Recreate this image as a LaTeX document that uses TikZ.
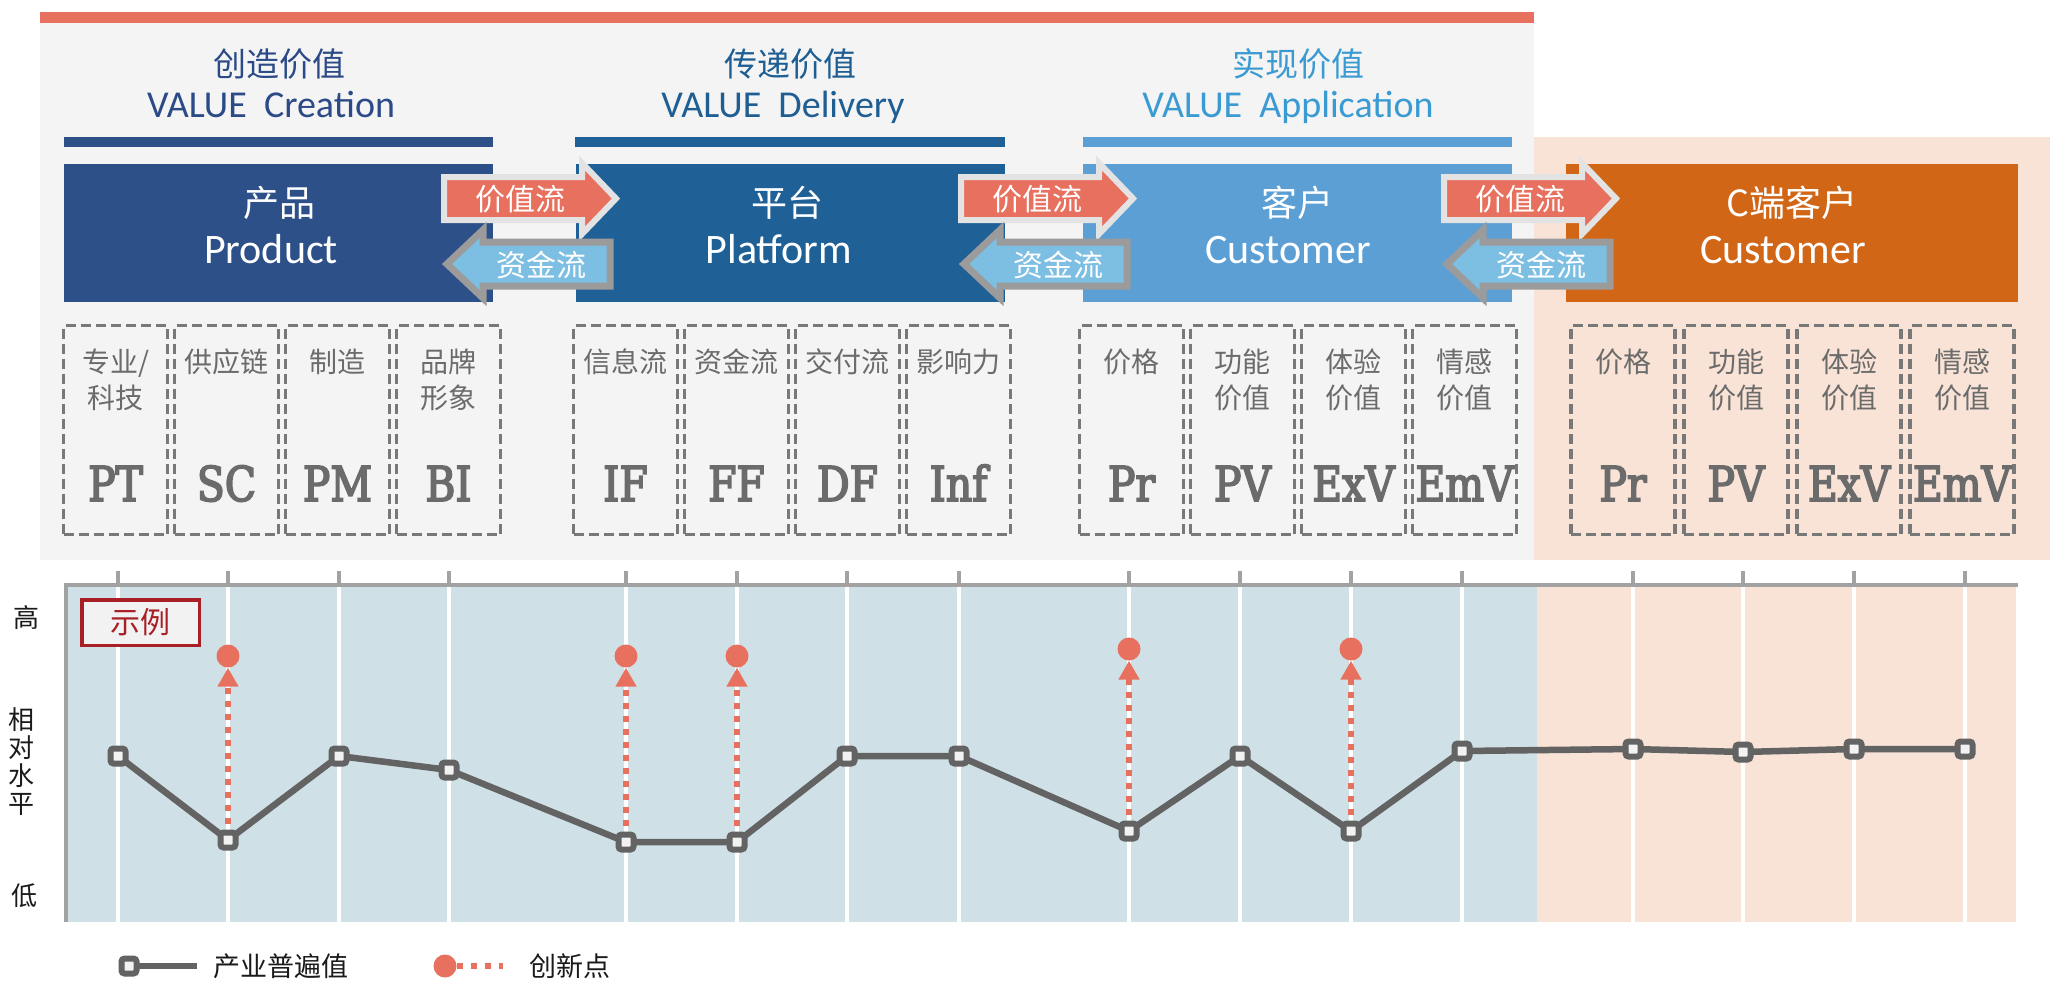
\documentclass[tikz,border=0pt]{standalone}
\usepackage{fontspec}
\setmainfont{Carlito}
\newfontfamily\cjk{Noto Sans CJK SC}
\newfontfamily\slab[FakeStretch=0.85,FakeBold=3.5]{DejaVu Serif}
\usetikzlibrary{arrows.meta}
\newcommand\myfs[1]{\fontsize{#1}{#1}\selectfont}
\definecolor{topred}{HTML}{E8705F}
\definecolor{panelgrey}{HTML}{F4F4F4}
\definecolor{peach}{HTML}{F8E3D6}
\definecolor{hdrA}{HTML}{2C4A87}
\definecolor{hdrB}{HTML}{1F5E93}
\definecolor{hdrC}{HTML}{3A9BD3}
\definecolor{boxA}{HTML}{2D5089}
\definecolor{boxB}{HTML}{1F6197}
\definecolor{boxC}{HTML}{5B9FD5}
\definecolor{boxD}{HTML}{D16617}
\definecolor{arrowred}{HTML}{E8705F}
\definecolor{arrowblue}{HTML}{7DBFE3}
\definecolor{outlight}{HTML}{E3E3E3}
\definecolor{outdark}{HTML}{9B9B9B}
\definecolor{dashgrey}{HTML}{787878}
\definecolor{lblgrey}{HTML}{6B6B6B}
\definecolor{chartblue}{HTML}{CFE1E7}
\definecolor{axisgrey}{HTML}{A2A2A2}
\definecolor{mgrey}{HTML}{636363}
\definecolor{mwhite}{HTML}{F2F2F2}
\definecolor{exred}{HTML}{A81F26}
\definecolor{ink}{HTML}{1A1A1A}
\tikzset{
  bigbox/.style={minimum width=429pt, minimum height=138pt, draw=none},
  hdrcn/.style={font=\cjk\myfs{33}},
  hdren/.style={font=\myfs{38}, anchor=base},
  boxcn/.style={font=\cjk\myfs{36}, text=white},
  boxen/.style={font=\myfs{42}, text=white, anchor=base},
  dbox/.style={draw=dashgrey, line width=3.5pt, dash pattern=on 10pt off 5pt, minimum width=104pt, minimum height=209pt},
  lbl/.style={font=\cjk\fontsize{28}{36}\selectfont, text=lblgrey, align=center},
  bigtxt/.style={font=\slab\myfs{48}, text=lblgrey, anchor=base},
  flowtxt/.style={font=\cjk\myfs{30}, text=white},
  redarrow/.style={fill=arrowred, draw=outlight, line width=6pt, line join=miter},
  bluearrow/.style={fill=arrowblue, draw=outdark, line width=7pt, line join=miter},
  valline/.style={draw=mgrey, line width=6.5pt, line join=round},
  valmark/.style={draw=mgrey, fill=mwhite, line width=6pt, minimum size=15pt, rounded corners=3pt},
  innodot/.style={circle, fill=arrowred, minimum size=23pt},
  innovl/.style={draw=arrowred, line width=6.5pt, dash pattern=on 6pt off 7pt, shorten <=6pt, -{Triangle[width=20pt,length=19pt]}},
  axistxt/.style={font=\cjk\myfs{26}, text=ink},
}
\newcommand\colbox[5]{%
  \node[dbox] (#1) at (#2,430) {};
  \node[lbl] (#1l) at (#2,#4) {#3};
  \node[bigtxt] (#1b) at (#2,501) {#5};
}
\begin{document}
\begin{tikzpicture}[x=1pt,y=-1pt, every node/.style={inner sep=0pt}]
\useasboundingbox (0,0) rectangle (2059,989);
\fill[white] (0,0) rectangle (2059,989);
% panels
\fill[panelgrey] (40,23) rectangle (1534,560);
\fill[topred] (40,12) rectangle (1534,23);
\fill[peach] (1534,137) rectangle (2050,560);
% headers
\node[hdrcn, text=hdrA] (h1) at (279,64) {创造价值};
\node[hdren, text=hdrA] (h1e) at (271,117) {VALUE\ \ Creation};
\node[hdrcn, text=hdrB] (h2) at (790,64) {传递价值};
\node[hdren, text=hdrB] (h2e) at (783,117) {VALUE\ \ Delivery};
\node[hdrcn, text=hdrC] (h3) at (1298,64) {实现价值};
\node[hdren, text=hdrC] (h3e) at (1288,117) {VALUE\ \ Application};
\fill[boxA] (64,137) rectangle (493,147);
\fill[boxB] (575,137) rectangle (1005,147);
\fill[boxC] (1083,137) rectangle (1512,147);
% big boxes
\node[bigbox, fill=boxA] (prod) at (278.5,233) {};
\node[bigbox, fill=boxB] (plat) at (790,233) {};
\node[bigbox, fill=boxC] (cust) at (1297.5,233) {};
\node[bigbox, fill=boxD, minimum width=452pt] (ccust) at (1792,233) {};
\node[boxcn] (prodc) at (279,203) {产品};
\node[boxen] (prode) at (271,263) {Product};
\node[boxcn] (platc) at (787,203) {平台};
\node[boxen] (plate) at (779,263) {Platform};
\node[boxcn] (custc) at (1297,203) {客户};
\node[boxen] (custe) at (1288,263) {Customer};
\node[boxcn] (ccustc) at (1792,203) {C端客户};
\node[boxen] (ccuste) at (1783,263) {Customer};
% flow arrows
\foreach \L/\i in {441/1,958/2,1441/3}{
  \draw[redarrow] ({\L+3},177) -- ({\L+141},177) -- ({\L+141},163) -- ({\L+175},198.5) -- ({\L+141},234) -- ({\L+141},220) -- ({\L+3},220) -- cycle;
  \node[flowtxt] (vf\i) at ({\L+79},199) {价值流};
  \draw[bluearrow] ({\L+6},264) -- ({\L+42},230) -- ({\L+42},242) -- ({\L+169},242) -- ({\L+169},286) -- ({\L+42},286) -- ({\L+42},298) -- cycle;
  \node[flowtxt] (ff\i) at ({\L+100},265) {资金流};
}
% dashed columns
\colbox{b1}{115.5}{专业/\\科技}{380}{PT}
\colbox{b2}{226.5}{供应链}{362}{SC}
\colbox{b3}{337.5}{制造}{362}{PM}
\colbox{b4}{448.5}{品牌\\形象}{380}{BI}
\colbox{b5}{625.5}{信息流}{362}{IF}
\colbox{b6}{736.5}{资金流}{362}{FF}
\colbox{b7}{847.5}{交付流}{362}{DF}
\colbox{b8}{958.5}{影响力}{362}{Inf}
\colbox{b9}{1131.5}{价格}{362}{Pr}
\colbox{b10}{1242.5}{功能\\价值}{380}{PV}
\colbox{b11}{1353.5}{体验\\价值}{380}{ExV}
\colbox{b12}{1464.5}{情感\\价值}{380}{EmV}
\colbox{b13}{1623}{价格}{362}{Pr}
\colbox{b14}{1736}{功能\\价值}{380}{PV}
\colbox{b15}{1849}{体验\\价值}{380}{ExV}
\colbox{b16}{1962}{情感\\价值}{380}{EmV}
% chart
\fill[chartblue] (68,587) rectangle (1537,922);
\fill[peach] (1537,587) rectangle (2016,922);
\foreach \x in {118,228,339,449,626,737,847,959,1129,1240,1351,1462,1633,1743,1854,1965}{
  \draw[white, line width=4pt] (\x,587) -- (\x,922);
  \draw[axisgrey, line width=4pt] (\x,571) -- (\x,586);
}
\draw[axisgrey, line width=4pt] (64,585) -- (2018,585);
\draw[axisgrey, line width=4pt] (66,583) -- (66,922);
\node[draw=exred, line width=3.5pt, fill=mwhite, minimum width=117.5pt, minimum height=45.5pt, text=exred, font=\cjk\myfs{30}] (ex) at (140.5,622.5) {示例};
\node[axistxt] (hi) at (26,618) {高};
\node[axistxt, font=\cjk\fontsize{26}{28}\selectfont, align=center] (rel) at (22,762) {相\\对\\水\\平};
\node[axistxt] (lo) at (25,896) {低};
% data
\coordinate (p1) at (118,756);
\coordinate (p2) at (228,840);
\coordinate (p3) at (339,756);
\coordinate (p4) at (449,770);
\coordinate (p5) at (626,842);
\coordinate (p6) at (737,842);
\coordinate (p7) at (847,756);
\coordinate (p8) at (959,756);
\coordinate (p9) at (1129,831);
\coordinate (p10) at (1240,756);
\coordinate (p11) at (1351,831);
\coordinate (p12) at (1462,751);
\coordinate (p13) at (1633,749);
\coordinate (p14) at (1743,752);
\coordinate (p15) at (1854,749);
\coordinate (p16) at (1965,749);
\draw[valline] (p1) -- (p2) -- (p3) -- (p4) -- (p5) -- (p6) -- (p7) -- (p8) -- (p9) -- (p10) -- (p11) -- (p12) -- (p13) -- (p14) -- (p15) -- (p16);
\foreach \i in {1,...,16}{ \node[valmark] (m\i) at (p\i) {}; }
\node[innodot] (c2) at (228,656) {};
\node[innodot] (c5) at (626,656) {};
\node[innodot] (c6) at (737,656) {};
\node[innodot] (c9) at (1129,649) {};
\node[innodot] (c11) at (1351,649) {};
\foreach \i in {2,5,6,9,11}{ \draw[innovl] (m\i) -- (c\i); }
% legend
\coordinate (lmc) at (129,966);
\coordinate (lme) at (197,966);
\draw[valline] (lmc) -- (lme);
\node[valmark] (lm) at (lmc) {};
\node[axistxt, font=\cjk\myfs{27}] (lt1) at (281,966) {产业普遍值};
\node[innodot] (lc) at (445,966) {};
\coordinate (lce) at (503,966);
\draw[draw=arrowred, line width=6.5pt, dash pattern=on 6pt off 8pt] (lc.east) -- (lce);
\node[axistxt, font=\cjk\myfs{27}] (lt2) at (570,966) {创新点};
\end{tikzpicture}
\end{document}
